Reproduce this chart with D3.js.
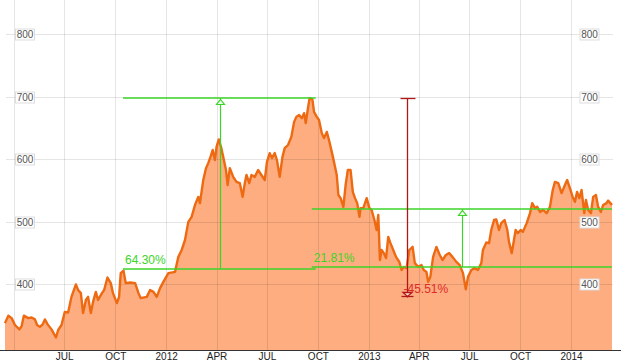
<!DOCTYPE html>
<meta charset="utf-8">
<style>
  body { margin: 0; background: #fff; }
  text { font-family: "Liberation Sans", Arial, sans-serif; }
  .grid line { stroke: #000; stroke-opacity: 0.1; shape-rendering: crispEdges; }
</style>
<svg width="628" height="363"></svg>
<script src="https://d3js.org/d3.v7.min.js"></script>
<script>
  // price series
  var dates = ["2011-03-16","2011-03-22","2011-03-28","2011-04-03","2011-04-11","2011-04-15","2011-04-19","2011-04-27",
    "2011-05-03","2011-05-09","2011-05-13","2011-05-18","2011-05-23","2011-05-27","2011-06-01","2011-06-08","2011-06-16",
    "2011-06-20","2011-06-26","2011-07-02","2011-07-08","2011-07-14","2011-07-22","2011-07-26","2011-07-31","2011-08-04",
    "2011-08-09","2011-08-13","2011-08-18","2011-08-22","2011-08-27","2011-08-31","2011-09-07","2011-09-11","2011-09-17",
    "2011-09-23","2011-09-27","2011-10-04","2011-10-08","2011-10-11","2011-10-16","2011-10-20","2011-10-28","2011-11-06",
    "2011-11-12","2011-11-16","2011-11-27","2011-12-03","2011-12-09","2011-12-15","2011-12-21","2011-12-27","2012-01-05",
    "2012-01-17","2012-01-23","2012-01-29","2012-02-04","2012-02-10","2012-02-16","2012-02-22","2012-02-28","2012-03-02",
    "2012-03-08","2012-03-13","2012-03-17","2012-03-21","2012-03-25","2012-03-29","2012-04-01","2012-04-05","2012-04-09",
    "2012-04-13","2012-04-18","2012-04-21","2012-04-25","2012-05-01","2012-05-07","2012-05-13","2012-05-18","2012-05-22",
    "2012-05-25","2012-05-30","2012-06-03","2012-06-09","2012-06-15","2012-06-21","2012-06-27","2012-07-01","2012-07-06",
    "2012-07-10","2012-07-15","2012-07-19","2012-07-24","2012-07-29","2012-08-02","2012-08-08","2012-08-14","2012-08-19",
    "2012-08-23","2012-08-28","2012-09-02","2012-09-06","2012-09-09","2012-09-13","2012-09-16","2012-09-21","2012-09-24",
    "2012-09-29","2012-10-03","2012-10-08","2012-10-12","2012-10-17","2012-10-21","2012-10-26","2012-10-30","2012-11-04",
    "2012-11-07","2012-11-11","2012-11-16","2012-11-20","2012-11-24","2012-11-29","2012-12-03","2012-12-07","2012-12-11",
    "2012-12-15","2012-12-17","2012-12-22","2012-12-28","2013-01-02","2013-01-06","2013-01-11","2013-01-15","2013-01-18",
    "2013-01-21","2013-01-24","2013-01-28","2013-02-01","2013-02-05","2013-02-09","2013-02-14","2013-02-19","2013-02-25",
    "2013-03-01","2013-03-05","2013-03-10","2013-03-15","2013-03-21","2013-03-25","2013-03-31","2013-04-06","2013-04-10",
    "2013-04-15","2013-04-18","2013-04-22","2013-04-27","2013-05-03","2013-05-09","2013-05-14","2013-05-20","2013-05-26",
    "2013-06-01","2013-06-08","2013-06-14","2013-06-20","2013-06-25","2013-06-29","2013-07-05","2013-07-11","2013-07-17",
    "2013-07-23","2013-07-26","2013-08-01","2013-08-06","2013-08-10","2013-08-15","2013-08-19","2013-08-24","2013-08-28",
    "2013-09-03","2013-09-08","2013-09-11","2013-09-16","2013-09-20","2013-09-23","2013-09-27","2013-10-02","2013-10-06",
    "2013-10-13","2013-10-19","2013-10-23","2013-10-28","2013-11-01","2013-11-06","2013-11-12","2013-11-18","2013-11-24",
    "2013-11-29","2013-12-03","2013-12-09","2013-12-15","2013-12-21","2013-12-25","2013-12-30","2014-01-04","2014-01-08",
    "2014-01-12","2014-01-16","2014-01-20","2014-01-25","2014-01-28","2014-02-01","2014-02-06","2014-02-10","2014-02-15",
    "2014-02-19","2014-02-24","2014-02-28","2014-03-06","2014-03-09","2014-03-13","2014-03-16"];
  var prices = [338,350,346,335,328,333,350,346,
    347,344,335,332,336,344,336,328,315,
    327,335,356,355,380,400,391,386,354,
    375,380,354,372,388,375,386,391,411,
    402,386,370,380,418,422,402,403,402,
    386,378,380,391,388,380,394,404,418,
    420,444,455,471,500,508,527,540,530,
    567,586,594,604,615,599,620,632,620,
    604,583,559,586,572,564,562,540,562,
    575,562,575,572,583,575,567,596,610,
    602,610,599,572,604,618,623,636,660,
    668,671,666,674,658,682,698,696,676,
    668,663,642,634,644,631,612,596,575,
    543,538,524,559,583,583,548,538,530,
    508,522,522,538,522,519,503,487,511,
    439,455,450,442,476,466,455,444,436,
    423,428,426,455,460,434,428,431,423,
    420,404,412,444,460,447,439,447,450,
    444,436,431,418,392,412,423,426,423,
    434,455,467,466,487,503,504,487,498,
    503,487,468,450,471,487,482,487,484,
    498,514,530,522,524,516,519,514,524,
    551,564,562,546,559,567,554,540,532,
    548,538,551,514,535,519,514,540,543,
    524,516,527,530,534,530,527];

  var yTicks = [400, 500, 600, 700, 800];
  var xTickDates = ["2011-04-01","2011-07-01","2011-10-01","2012-01-01","2012-04-01","2012-07-01","2012-10-01",
    "2013-01-01","2013-04-01","2013-07-01","2013-10-01","2014-01-01"];
  var xTickLabels = ["","JUL","OCT","2012","APR","JUL","OCT","2013","APR","JUL","OCT","2014"];

  // green "gain" ranges and the red drawdown
  var gainFrom = ["2011-10-15", "2012-09-20"];
  var gainTo = ["2012-09-27", "2014-03-16"];
  var gainLow = [424.8, 428];
  var gainHigh = [698, 521.3];
  var gainAt = ["2012-04-07", "2013-06-18"];
  var gainText = ["64.30%", "21.81%"];
  var dropAt = "2013-03-10";
  var dropFrom = 698, dropTo = 380.3;
  var dropText = "-45.51%";

  var parse = d3.timeParse("%Y-%m-%d");
  var data = dates.map(function(d, i) { return { date: parse(d), value: prices[i] }; });

  var svg = d3.select("svg");
  var x = d3.scaleTime().domain([parse("2011-03-16"), parse("2014-03-16")]).range([5, 612]);
  var y = d3.scaleLinear().domain([295, 855]).range([350, 0]);

  var green = "#3cd428", red = "#b01818";

  // area
  svg.append("path").datum(data)
    .attr("fill", "#fdad7f")
    .attr("d", d3.area().x(function(d) { return x(d.date); }).y0(y(295)).y1(function(d) { return y(d.value); }));

  // grid
  var grid = svg.append("g").attr("class", "grid");
  grid.selectAll(".v").data(xTickDates).enter().append("line")
    .attr("x1", function(d) { return Math.round(x(parse(d))) + 0.5; })
    .attr("x2", function(d) { return Math.round(x(parse(d))) + 0.5; })
    .attr("y1", 0).attr("y2", 350);
  grid.selectAll(".h").data(yTicks).enter().append("line")
    .attr("x1", 6).attr("x2", 613)
    .attr("y1", function(d) { return Math.round(y(d)) + 0.5; })
    .attr("y2", function(d) { return Math.round(y(d)) + 0.5; });

  // price line
  svg.append("path").datum(data)
    .attr("fill", "none")
    .attr("stroke", "#ee6a12")
    .attr("stroke-width", 2.4)
    .attr("stroke-linejoin", "round")
    .attr("d", d3.line().x(function(d) { return x(d.date); }).y(function(d) { return y(d.value); }));

  // y labels in boxes, both sides
  [25, 589.5].forEach(function(cx) {
    var g = svg.append("g").selectAll("g").data(yTicks).enter().append("g")
      .attr("transform", function(d) { return "translate(" + cx + "," + (Math.round(y(d)) + 0.5) + ")"; });
    g.append("rect").attr("x", -9.5).attr("y", -5.5).attr("width", 19).attr("height", 11)
      .attr("fill", "#fff").attr("stroke", "#ddd");
    g.append("text").attr("text-anchor", "middle").attr("dy", "0.35em")
      .attr("font-size", 10).attr("fill", "#555").text(function(d) { return d; });
  });

  // x axis
  var xAxis = svg.append("g").attr("transform", "translate(0,350)")
    .call(d3.axisBottom(x).tickValues(xTickDates.map(parse)).tickSize(0).tickPadding(3)
      .tickFormat(function(d, i) { return xTickLabels[i]; }));
  xAxis.select(".domain").remove();
  xAxis.selectAll("text").attr("font-size", 10).attr("fill", "#222")
    .attr("font-family", "'Liberation Sans', Arial, sans-serif");
  svg.append("line").attr("x1", 0).attr("x2", 621).attr("y1", 350.5).attr("y2", 350.5)
    .attr("stroke", "#333");

  // gain annotations
  gainText.forEach(function(t, i) {
    var x0 = x(parse(gainFrom[i])), x1 = x(parse(gainTo[i]));
    var xm = Math.round(x(parse(gainAt[i]))) + 0.5;
    var yl = Math.round(y(gainLow[i])), yh = Math.round(y(gainHigh[i]));
    var g = svg.append("g").attr("stroke", green).attr("fill", "none");
    g.append("line").attr("x1", x0).attr("x2", x1).attr("y1", yl).attr("y2", yl).attr("stroke-width", 1.6);
    g.append("line").attr("x1", x0).attr("x2", x1).attr("y1", yh).attr("y2", yh).attr("stroke-width", 1.6);
    g.append("line").attr("x1", xm).attr("x2", xm).attr("y1", yh).attr("y2", yl).attr("stroke-width", 1.2);
    g.append("path").attr("fill", "#eaffea").attr("stroke-width", 1.2)
      .attr("d", "M" + xm + "," + (yh + 1.5) + "L" + (xm + 4) + "," + (yh + 6.5) + "L" + (xm - 4) + "," + (yh + 6.5) + "Z");
    svg.append("text").attr("x", x0 + 2).attr("y", yl - 5)
      .attr("font-size", 12).attr("fill", green).text(t);
  });

  // drawdown annotation
  var xd = Math.round(x(parse(dropAt))) + 0.5, yt = Math.round(y(dropFrom)) + 0.5, yb = Math.round(y(dropTo)) + 0.5;
  var gr = svg.append("g").attr("stroke", red).attr("stroke-width", 1.3).attr("fill", "none");
  gr.append("line").attr("x1", xd).attr("x2", xd).attr("y1", yt).attr("y2", yb);
  gr.append("line").attr("x1", xd - 7).attr("x2", xd + 8).attr("y1", yt).attr("y2", yt);
  gr.append("line").attr("x1", xd - 6).attr("x2", xd + 6).attr("y1", yb - 1).attr("y2", yb - 1);
  gr.append("path").attr("fill", "#fdd")
    .attr("d", "M" + (xd - 4.5) + "," + (yb - 5) + "L" + (xd + 4.5) + "," + (yb - 5) + "L" + xd + "," + (yb - 1) + "Z");
  svg.append("text").attr("x", xd - 4).attr("y", yb - 5)
    .attr("font-size", 12).attr("fill", "#dd2a2a").text(dropText);
</script>
